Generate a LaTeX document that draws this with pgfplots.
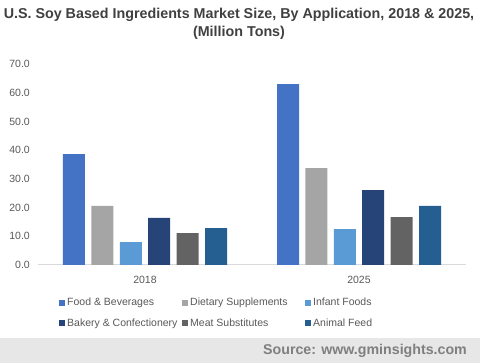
\documentclass[border=0pt]{standalone}
\usepackage{pgfplots}
\pgfplotsset{compat=1.18}
\usepackage{fontspec}
\setmainfont{Liberation Sans}
\definecolor{cFood}{HTML}{4472C4}
\definecolor{cDiet}{HTML}{A5A5A5}
\definecolor{cInf}{HTML}{5B9BD5}
\definecolor{cBak}{HTML}{264478}
\definecolor{cMeat}{HTML}{636363}
\definecolor{cAni}{HTML}{255E91}
\definecolor{txt}{HTML}{595959}
\definecolor{ttl}{HTML}{404040}
\definecolor{foot}{HTML}{E7E7E7}
\definecolor{foottxt}{HTML}{7F7F7F}
\begin{document}
\begin{tikzpicture}[x=1pt,y=1pt]
\useasboundingbox (0,0) rectangle (480,363);
\fill[white] (0,0) rectangle (480,363);
\fill[foot] (0,0) rectangle (480,25);
\node[anchor=base east, text=foottxt, font=\fontsize{14.2}{16}\selectfont\bfseries, inner sep=0pt] at (467,8.5) {Source: www.gminsights.com};
\node[anchor=north, align=center, text=ttl, font=\fontsize{14.3}{17.5}\selectfont\bfseries, inner sep=0pt] at (239,355) {U.S. Soy Based Ingredients Market Size, By Application, 2018 \& 2025,\\(Million Tons)};
\begin{axis}[
  at={(38pt,98pt)}, anchor=south west,
  scale only axis, width=428pt, height=200.7pt,
  ybar=6.4pt, bar width=22pt,
  xmin=-0.5, xmax=1.5, ymin=0, ymax=70,
  xtick={0,1}, xticklabels={2018,2025},
  ytick={0,10,...,70},
  axis x line*=bottom, axis y line*=left,
  x axis line style={draw=black!15, line width=1pt},
  y axis line style={draw=none},
  xtick style={draw=none},
  ytick style={draw=none},
  yticklabel style={anchor=east, inner sep=0pt, xshift=-8pt, text=txt, font=\fontsize{10.5}{12}\selectfont},
  xticklabel style={anchor=north, inner sep=0pt, yshift=-7pt, text=txt, font=\fontsize{10.5}{12}\selectfont},
  yticklabel={\pgfmathprintnumber[fixed,fixed zerofill,precision=1]{\tick}},
  /pgf/number format/assume math mode=true,
  legend columns=3,
  legend style={at={(0.049,-0.155)}, anchor=north west, draw=none, fill=none,
    font=\fontsize{10.5}{12}\selectfont, text=txt, inner sep=0pt, row sep=7pt,
    /tikz/every even column/.append style={column sep=1pt},
    cells={anchor=west}},
  legend image code/.code={\fill[#1] (0pt,-3pt) rectangle (6pt,3pt);},
  every axis plot/.append style={draw=none},
]
\addplot[fill=cFood] coordinates {(0,38.7) (1,63.1)};
\addplot[fill=cDiet] coordinates {(0,20.6) (1,33.8)};
\addplot[fill=cInf] coordinates {(0,8.0) (1,12.5)};
\addplot[fill=cBak] coordinates {(0,16.4) (1,26.1)};
\addplot[fill=cMeat] coordinates {(0,11.1) (1,16.7)};
\addplot[fill=cAni] coordinates {(0,12.9) (1,20.6)};
\legend{\makebox[112pt][l]{Food \& Beverages},\makebox[112pt][l]{Dietary Supplements},Infant Foods,\makebox[112pt][l]{Bakery \& Confectionery},\makebox[112pt][l]{Meat Substitutes},Animal Feed}
\end{axis}
\end{tikzpicture}
\end{document}
